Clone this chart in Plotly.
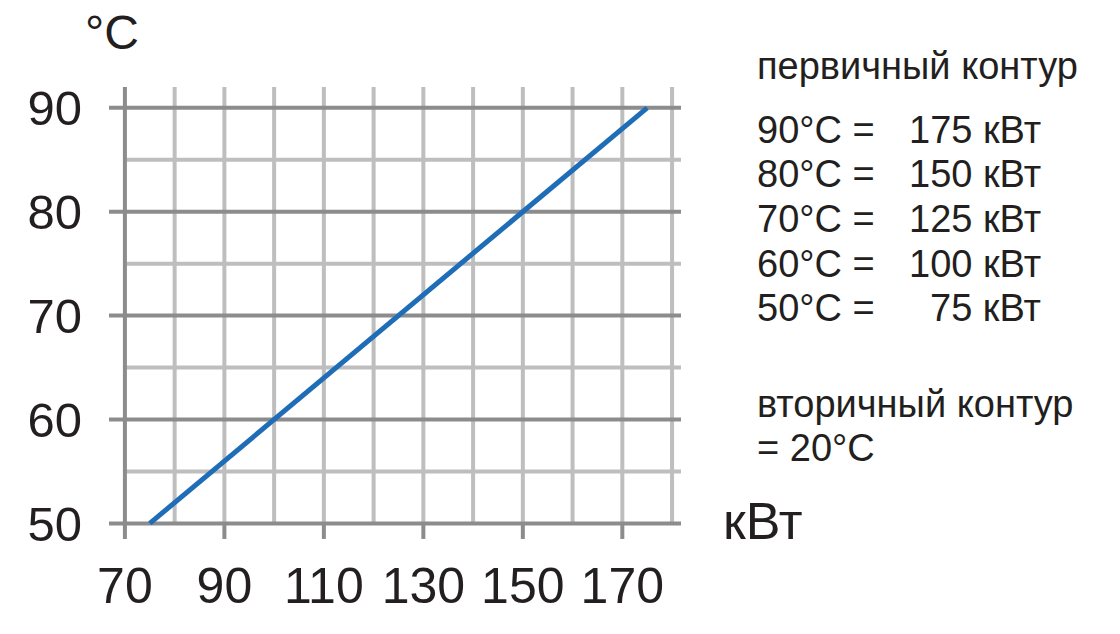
import plotly.graph_objects as go

# ---- data ----
power_kw = [75, 100, 125, 150, 175]
temp_c = [50, 60, 70, 80, 90]

x_tick_vals = [70, 90, 110, 130, 150, 170]
y_tick_vals = [50, 60, 70, 80, 90]
x_grid_vals = [80, 90, 100, 110, 120, 130, 140, 150, 160, 170, 180]
y_major_vals = [50, 60, 70, 80, 90]
y_minor_vals = [55, 65, 75, 85]

header_primary = "первичный контур"
legend_left = ["90°C =", "80°C =", "70°C =", "60°C =", "50°C ="]
legend_right = ["175 кВт", "150 кВт", "125 кВт", "100 кВт", "75 кВт"]
secondary_lines = ["вторичный контур", "= 20°C"]
y_unit = "°C"
x_unit = "кВт"

# ---- style ----
DARK = "#8c8c8c"
LIGHT = "#bebebe"
BLUE = "#1f6db6"
TXT = "#231f20"
FONT = "Liberation Sans"

W, H = 1120, 634
x_range = [66.6, 182.2]
y_range = [48.4, 92.2]
L, R, T, B = 108.1, 437.4, 85.2, 94.4
pw = W - L - R
ph = H - T - B

def px_x(p):
    return (p - L) / pw

def px_y(p):
    return 1 - (p - T) / ph

x_left_ext = 66.8
x_right_ext = 181.8
y_top_ext = 92.0
y_tick_low = 48.5
x0_axis = 70

shapes = []
# light vertical grid lines
for xv in x_grid_vals:
    shapes.append(dict(type="line", xref="x", yref="y", x0=xv, x1=xv,
                       y0=y_major_vals[0], y1=y_top_ext,
                       line=dict(color=LIGHT, width=4), layer="below"))
# light horizontal lines
for yv in y_minor_vals:
    shapes.append(dict(type="line", xref="x", yref="y", x0=x0_axis, x1=x_right_ext,
                       y0=yv, y1=yv, line=dict(color=LIGHT, width=4), layer="below"))
# dark horizontal lines
for yv in y_major_vals:
    shapes.append(dict(type="line", xref="x", yref="y", x0=x_left_ext, x1=x_right_ext,
                       y0=yv, y1=yv, line=dict(color=DARK, width=4), layer="below"))
# dark x ticks below the axis
for xv in x_tick_vals[1:]:
    shapes.append(dict(type="line", xref="x", yref="y", x0=xv, x1=xv,
                       y0=y_tick_low, y1=y_major_vals[0],
                       line=dict(color=DARK, width=4), layer="below"))
# dark y axis line
shapes.append(dict(type="line", xref="x", yref="y", x0=x0_axis, x1=x0_axis,
                   y0=y_tick_low, y1=y_top_ext,
                   line=dict(color=DARK, width=4), layer="below"))

fig = go.Figure()
fig.add_trace(go.Scatter(x=power_kw, y=temp_c, mode="lines",
                         line=dict(color=BLUE, width=5), hoverinfo="skip"))

annotations = []
annotations.append(dict(text=y_unit, xref="paper", yref="paper",
                        x=px_x(112), y=px_y(33), xanchor="center", yanchor="middle",
                        showarrow=False, font=dict(family=FONT, size=48, color=TXT)))
annotations.append(dict(text=x_unit, xref="paper", yref="paper",
                        x=px_x(763), y=px_y(521), xanchor="center", yanchor="middle",
                        showarrow=False, font=dict(family=FONT, size=52, color=TXT)))

rfont = dict(family=FONT, size=38, color=TXT)
annotations.append(dict(text=header_primary, xref="paper", yref="paper",
                        x=px_x(755), y=px_y(66), xanchor="left", yanchor="middle",
                        showarrow=False, font=rfont))
row_y = [130, 174, 219, 264, 308]
for ly, ltxt, rtxt in zip(row_y, legend_left, legend_right):
    annotations.append(dict(text=ltxt, xref="paper", yref="paper",
                            x=px_x(755), y=px_y(ly), xanchor="left", yanchor="middle",
                            showarrow=False, font=rfont))
    annotations.append(dict(text=rtxt, xref="paper", yref="paper",
                            x=px_x(1042), y=px_y(ly), xanchor="right", yanchor="middle",
                            showarrow=False, font=rfont))
for ly, txt in zip([404, 448], secondary_lines):
    annotations.append(dict(text=txt, xref="paper", yref="paper",
                            x=px_x(755), y=px_y(ly), xanchor="left", yanchor="middle",
                            showarrow=False, font=rfont))

fig.update_layout(
    width=W, height=H,
    margin=dict(l=L, r=R, t=T, b=B, pad=0),
    paper_bgcolor="white", plot_bgcolor="white",
    showlegend=False,
    shapes=shapes,
    annotations=annotations,
    xaxis=dict(range=x_range, tickvals=x_tick_vals, showgrid=False, zeroline=False,
               showline=False, ticks="", ticklabelstandoff=12,
               tickfont=dict(family=FONT, size=50, color=TXT), fixedrange=True),
    yaxis=dict(range=y_range, tickvals=y_tick_vals, showgrid=False, zeroline=False,
               showline=False, ticks="", ticklabelstandoff=25,
               tickfont=dict(family=FONT, size=49, color=TXT), fixedrange=True),
)

fig.write_html("out.html", config={"displayModeBar": False},
               post_script="document.body.style.margin='0';document.body.style.padding='0';")
